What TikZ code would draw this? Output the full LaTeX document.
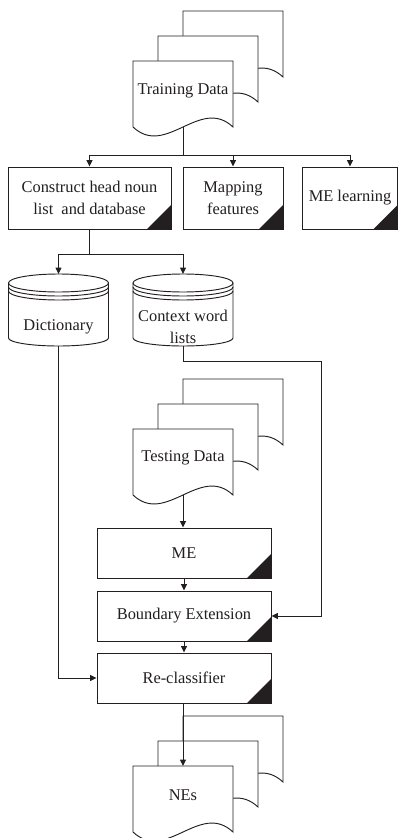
\documentclass[tikz,border=0pt]{standalone}
\usepackage{fontspec}
\setmainfont{Liberation Serif}
\usetikzlibrary{arrows.meta,calc}
\definecolor{ink}{HTML}{231F20}
\tikzset{
  ln/.style={draw=ink, line width=0.7pt},
  arr/.style={ln, -{Triangle[length=4.8pt,width=4.4pt]}},
  lbl/.style={text=ink, font=\fontsize{12.3}{16}\selectfont, align=center, inner sep=0pt},
  proc/.style={ln, fill=white, lbl, minimum height=46.5pt,
    path picture={\fill[ink] (path picture bounding box.south east) -- ++(-24,0) -- ++(24,-24) -- cycle;}},
  proc2/.style={proc, minimum height=37.5pt, minimum width=130.5pt},
  multidoc/.pic={
    \foreach \d in {50,25,0}{
      \path[ln, fill=white] (\d,{66-\d}) -- (\d,-\d) -- ({\d+100},-\d) -- ({\d+100},{66-\d})
        .. controls ({\d+67},{35-\d}) and ({\d+33},{97-\d}) .. (\d,{66-\d}) -- cycle;
    }
  },
  dbcyl/.pic={
    \path[ln, fill=white] (-50,0) -- (-50,55) .. controls (-50,59.4) and (-27.6,63) .. (0,63)
      .. controls (27.6,63) and (50,59.4) .. (50,55) -- (50,0)
      .. controls (50,-5) and (27.6,-9) .. (0,-9) .. controls (-27.6,-9) and (-50,-5) .. (-50,0) -- cycle;
    \foreach \d in {0,4,8}{
      \draw[ln] (-50,\d) .. controls (-50,{\d+5}) and (-27.6,{\d+9}) .. (0,{\d+9})
        .. controls (27.6,{\d+9}) and (50,{\d+5}) .. (50,\d);
    }
  }
}
\begin{document}
\begin{tikzpicture}[x=0.75pt,y=-0.75pt]
\useasboundingbox[fill=white] (0,0) rectangle (399,838);

% Training data
\pic at (133,61) {multidoc};
\node[lbl] (train) at (183,91) {Training Data};
\coordinate (trainb) at (183,127);
\coordinate (split1) at (183,155);

% first row of processes
\node[proc, minimum width=122.25pt] (b1) at (89.5,198) {Construct head noun\\list~ and database};
\node[proc, minimum width=75pt] (b2) at (233,198) {Mapping\\features};
\node[proc, minimum width=71.25pt] (b3) at (350,198) {ME learning};

\draw[ln] (trainb) -- (split1);
\draw[arr] (split1) -| (b1.north);
\draw[arr] (split1) -| (b2.north);
\draw[arr] (split1) -| (b3.north);

% databases
\pic at (58.5,283) {dbcyl};
\pic at (183,283) {dbcyl};
\node[lbl] (dict) at (58.5,327) {Dictionary};
\node[lbl] (ctx) at (183,327) {Context word\\lists};
\coordinate (dictop) at (58.5,274);
\coordinate (ctxtop) at (183,274);
\coordinate (dicbot) at (58.5,346);
\coordinate (ctxbot) at (183,346);

\draw[ln] (b1.south) -- ++(0,25) coordinate (split2);
\draw[arr] (split2) -| (dictop);
\draw[arr] (split2) -| (ctxtop);

% testing data
\pic at (133,429) {multidoc};
\node[lbl] (test) at (183,458) {Testing Data};
\coordinate (testb) at (183,495);

% second column of processes
\node[proc2] (me) at (184,553) {ME};
\node[proc2] (be) at (184,616) {Boundary Extension};
\node[proc2] (re) at (184,678) {Re-classifier};

\draw[arr] (testb) -- (testb |- me.north);
\draw[arr] (me.south) -- (be.north);
\draw[arr] (be.south) -- (re.north);

\coordinate (loopc) at (321,361);
\draw[arr] (ctxbot) |- (loopc) |- (be.east);
\draw[arr] (dicbot) |- (re.west);

% NEs
\pic at (133,766) {multidoc};
\node[lbl] (nes) at (183,795) {NEs};
\coordinate (netop) at (183,766);
\draw[arr] (re.south -| netop) -- (netop);
\end{tikzpicture}
\end{document}
